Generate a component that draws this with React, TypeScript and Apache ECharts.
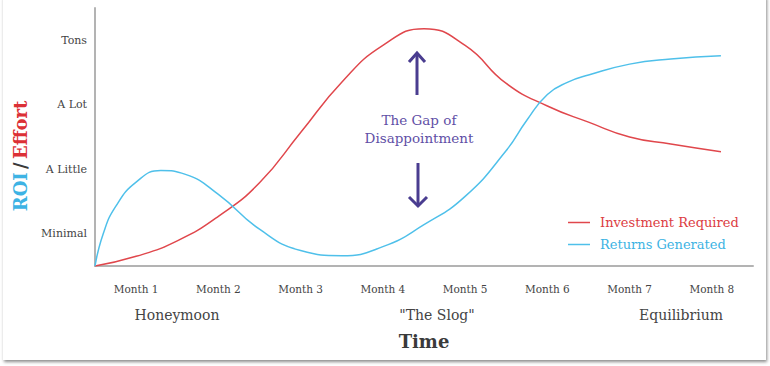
import React, { useEffect, useRef } from "react";
import * as echarts from "echarts";

// x in month units (0 = origin, Month n centred at n - 0.5); y in "effort" units
const investmentX = [0, 0.5, 1, 1.5, 2, 2.5, 3, 3.5, 4, 4.5, 5, 5.5, 6, 6.5, 7, 7.61];
const investmentY = [0, 0.15, 0.39, 0.77, 1.29, 2.07, 2.85, 3.42, 3.68, 3.42, 2.83, 2.48, 2.23, 2.0, 1.89, 1.77];
const returnsX = [0, 0.1, 0.25, 0.5, 0.8, 1.1, 1.5, 2, 2.5, 3, 3.5, 4, 4.5, 5, 5.25, 5.5, 5.75, 6, 6.5, 7, 7.61];
const returnsY = [0, 0.5, 0.92, 1.3, 1.48, 1.42, 1.11, 0.57, 0.24, 0.16, 0.3, 0.64, 1.08, 1.79, 2.26, 2.66, 2.85, 2.96, 3.13, 3.21, 3.26];

const monthLabels = ["Month 1", "Month 2", "Month 3", "Month 4", "Month 5", "Month 6", "Month 7", "Month 8"];
const levelLabels = ["Minimal", "A Little", "A Lot", "Tons"];
const phaseLabels = ["Honeymoon", "\"The Slog\"", "Equilibrium"];
const seriesNames = ["Investment Required", "Returns Generated"];

const FONT = "DejaVu Serif";
const RED = "#e0474c";
const BLUE = "#4fc0ea";
const PURPLE = "#4a3d90";

export default function App() {
  const ref = useRef<HTMLDivElement>(null);
  useEffect(() => {
    if (!ref.current) return;
    const chart = echarts.init(ref.current, null, { renderer: "svg" });
    const zip = (xs: number[], ys: number[]) => xs.map((x, i) => [x, ys[i]]);
    chart.setOption({
      animation: false,
      grid: { left: 95, top: 8, right: 17, bottom: 100 },
      xAxis: {
        type: "value",
        min: 0,
        max: 8,
        interval: 0.5,
        axisLine: { show: true, lineStyle: { color: "#b3b3b3", width: 2 } },
        axisTick: { show: false },
        splitLine: { show: false },
        axisLabel: {
          margin: 17,
          color: "#444444",
          fontFamily: FONT,
          fontSize: 10.5,
          formatter: (v: number) => {
            const i = Math.round(v - 0.5);
            return Math.abs(v - 0.5 - i) < 1e-6 && i >= 0 && i < monthLabels.length ? monthLabels[i] : "";
          },
        },
        name: "Time",
        nameLocation: "middle",
        nameGap: 66,
        nameTextStyle: { fontFamily: FONT, fontWeight: "bold", fontSize: 18, color: "#3a3a3a", verticalAlign: "top" },
      },
      yAxis: {
        type: "value",
        min: 0,
        max: 4,
        interval: 0.5,
        axisLine: { show: true, lineStyle: { color: "#b3b3b3", width: 2 } },
        axisTick: { show: false },
        splitLine: { show: false },
        axisLabel: {
          margin: 8,
          color: "#444444",
          fontFamily: FONT,
          fontSize: 11,
          formatter: (v: number) => {
            const i = Math.round(v - 0.5);
            return Math.abs(v - 0.5 - i) < 1e-6 && i >= 0 && i < levelLabels.length ? levelLabels[i] : "";
          },
        },
      },
      legend: {
        orient: "vertical",
        left: 563,
        top: 211,
        icon: "rect",
        itemWidth: 22,
        itemHeight: 1.5,
        itemGap: 9,
        data: [
          { name: seriesNames[0], textStyle: { color: "#dc3c42" } },
          { name: seriesNames[1], textStyle: { color: "#3cb3e3" } },
        ],
        textStyle: { fontFamily: FONT, fontSize: 13, padding: [0, 0, 0, 5] },
      },
      series: [
        {
          name: seriesNames[0],
          type: "line",
          smooth: 0.5,
          symbol: "none",
          data: zip(investmentX, investmentY),
          lineStyle: { color: RED, width: 1.5 },
          itemStyle: { color: RED },
        },
        {
          name: seriesNames[1],
          type: "line",
          smooth: 0.5,
          symbol: "none",
          data: zip(returnsX, returnsY),
          lineStyle: { color: BLUE, width: 1.5 },
          itemStyle: { color: BLUE },
        },
      ],
      graphic: [
        {
          type: "text",
          x: 20,
          y: 156,
          rotation: Math.PI / 2,
          style: {
            text: "{a|ROI} {b|/} {c|Effort}",
            align: "center",
            verticalAlign: "middle",
            rich: {
              a: { fontFamily: FONT, fontWeight: "bold", fontSize: 18, fill: "#3db3e4" },
              b: { fontFamily: FONT, fontWeight: "bold", fontSize: 18, fill: "#3a3a3a" },
              c: { fontFamily: FONT, fontWeight: "bold", fontSize: 18, fill: "#dc3036" },
            },
          },
        },
        { type: "text", x: 177, y: 315, style: { text: phaseLabels[0], align: "center", verticalAlign: "middle", fontFamily: FONT, fontSize: 14, fill: "#444444" } },
        { type: "text", x: 437, y: 315, style: { text: phaseLabels[1], align: "center", verticalAlign: "middle", fontFamily: FONT, fontSize: 14, fill: "#444444" } },
        { type: "text", x: 681, y: 315, style: { text: phaseLabels[2], align: "center", verticalAlign: "middle", fontFamily: FONT, fontSize: 14, fill: "#444444" } },
        { type: "text", x: 419, y: 120, style: { text: "The Gap of", align: "center", verticalAlign: "middle", fontFamily: FONT, fontSize: 13.5, fill: "#5f4fa6" } },
        { type: "text", x: 419, y: 138, style: { text: "Disappointment", align: "center", verticalAlign: "middle", fontFamily: FONT, fontSize: 13.5, fill: "#5f4fa6" } },
        { type: "line", shape: { x1: 417, y1: 95, x2: 417, y2: 53 }, style: { stroke: PURPLE, lineWidth: 3 } },
        { type: "polyline", shape: { points: [[409, 62], [417, 53], [425, 62]] }, style: { stroke: PURPLE, lineWidth: 3, fill: "none" } },
        { type: "line", shape: { x1: 418, y1: 163, x2: 418, y2: 206 }, style: { stroke: PURPLE, lineWidth: 3 } },
        { type: "polyline", shape: { points: [[409, 197], [418, 206], [427, 197]] }, style: { stroke: PURPLE, lineWidth: 3, fill: "none" } },
      ],
    });
    return () => chart.dispose();
  }, []);
  return (
    <div style={{ position: "fixed", left: 0, top: 0, width: 770, height: 366, background: "#ffffff" }}>
      <div
        style={{
          position: "absolute",
          left: 3,
          top: -4,
          width: 763,
          height: 364,
          background: "#ffffff",
          boxShadow: "1px 2px 3px rgba(0,0,0,0.45)",
        }}
      />
      <div ref={ref} style={{ position: "absolute", left: 0, top: 0, width: 770, height: 366 }} />
    </div>
  );
}
